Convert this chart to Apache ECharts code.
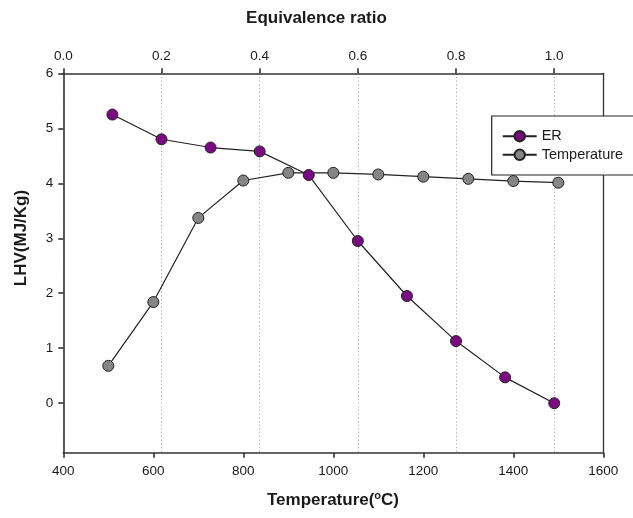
<!DOCTYPE html>
<html>
<head>
<meta charset="utf-8">
<script src="https://cdn.jsdelivr.net/npm/echarts@6/dist/echarts.min.js"></script>
<style>
html,body{margin:0;padding:0;background:#fff;}
#chart{width:633px;height:518px;}
</style>
</head>
<body>
<div id="chart"></div>
<script>
// ---- data ----
const tempX = [500, 600, 700, 800, 900, 1000, 1100, 1200, 1300, 1400, 1500];
const tempLHV = [0.68, 1.84, 3.37, 4.05, 4.19, 4.19, 4.16, 4.12, 4.08, 4.04, 4.01];
const erX = [0.1, 0.2, 0.3, 0.4, 0.5, 0.6, 0.7, 0.8, 0.9, 1.0];
const erLHV = [5.25, 4.80, 4.65, 4.58, 4.15, 2.95, 1.95, 1.13, 0.47, 0.0];
const yTicks = [0, 1, 2, 3, 4, 5, 6];
const erTicks = [0, 0.2, 0.4, 0.6, 0.8, 1.0];
const seriesNames = ['ER', 'Temperature'];
const xTitle = 'Temperature';
const x2Title = 'Equivalence ratio';
const yTitle = 'LHV(MJ/Kg)';

const FONT = '"Liberation Sans", Arial, sans-serif';
const axisColor = '#333';
const textColor = '#1a1a1a';

const chart = echarts.init(document.getElementById('chart'), null, {renderer: 'canvas'});

const axisLineStyle = {color: axisColor, width: 1.6};

const option = {
  backgroundColor: '#fff',
  animation: false,
  textStyle: {fontFamily: FONT},
  grid: {
    left: 63.3, right: 29.7, top: 73.3, bottom: 65.3,
    show: false
  },
  xAxis: [
    {
      type: 'value', position: 'bottom', min: 400, max: 1600, interval: 200,
      axisLine: {show: true, onZero: false, lineStyle: axisLineStyle},
      axisTick: {show: true, inside: false, length: 5, lineStyle: axisLineStyle},
      axisLabel: {color: textColor, fontSize: 13.5, margin: 12, fontFamily: FONT, formatter: v => String(v)},
      splitLine: {show: false}
    },
    {
      type: 'value', position: 'top', min: 0, max: 1.1, interval: 0.2,
      axisLine: {show: true, onZero: false, lineStyle: axisLineStyle},
      axisTick: {show: true, inside: false, length: 5, customValues: erTicks, lineStyle: axisLineStyle},
      axisLabel: {
        color: textColor, fontSize: 13.5, margin: 10, fontFamily: FONT,
        customValues: erTicks,
        formatter: v => v.toFixed(1)
      },
      splitLine: {show: true, lineStyle: {color: '#aaa', type: [1.2, 2.5], width: 1}}
    }
  ],
  yAxis: [
    {
      type: 'value', position: 'left', min: -0.9, max: 6,
      axisLine: {show: true, onZero: false, lineStyle: axisLineStyle},
      axisTick: {show: true, inside: false, length: 5, customValues: yTicks, lineStyle: axisLineStyle},
      axisLabel: {color: textColor, fontSize: 13.5, margin: 10, fontFamily: FONT, customValues: yTicks},
      splitLine: {show: false}
    },
    {
      type: 'value', position: 'right', min: -0.9, max: 6,
      axisLine: {show: true, onZero: false, lineStyle: {color: axisColor, width: 1.3}},
      axisTick: {show: false},
      axisLabel: {show: false},
      splitLine: {show: false}
    }
  ],
  legend: {
    orient: 'vertical',
    left: 491.7, top: 116,
    data: seriesNames,
    backgroundColor: '#fff',
    borderColor: '#222', borderWidth: 1.2, borderRadius: 0,
    padding: [12.7, 14, 12.7, 10],
    itemWidth: 34, itemHeight: 13, itemGap: 3.6,
    textStyle: {color: textColor, fontSize: 14.5, fontFamily: FONT, lineHeight: 14},
    z: 10
  },
  series: [
    {
      name: seriesNames[1], type: 'line', xAxisIndex: 0, yAxisIndex: 0,
      data: tempX.map((x, i) => [x, tempLHV[i]]),
      symbol: 'circle', symbolSize: 11,
      itemStyle: {color: '#858585', borderColor: '#222', borderWidth: 1},
      lineStyle: {color: '#222', width: 1.2},
      z: 2
    },
    {
      name: seriesNames[0], type: 'line', xAxisIndex: 1, yAxisIndex: 0,
      data: erX.map((x, i) => [x, erLHV[i]]),
      symbol: 'circle', symbolSize: 11,
      itemStyle: {color: '#7a0a7f', borderColor: '#222', borderWidth: 1},
      lineStyle: {color: '#222', width: 1.2},
      z: 3
    }
  ],
  graphic: [
    {
      type: 'text', left: 'center', top: 10,
      style: {text: x2Title, fontSize: 17, fontWeight: 'bold', fill: textColor, fontFamily: FONT}
    },
    {
      type: 'text', x: 333, y: 500,
      style: {
        text: xTitle + '({sup|o}C)',
        align: 'center', verticalAlign: 'middle',
        fontSize: 17, fontWeight: 'bold', fill: textColor, fontFamily: FONT,
        rich: {sup: {fontSize: 11, fontWeight: 'bold', verticalAlign: 'top', padding: [0, 0, 8, 0], fontFamily: FONT, fill: textColor}}
      }
    },
    {
      type: 'text', x: 21, y: 238, rotation: Math.PI / 2,
      style: {text: yTitle, align: 'center', verticalAlign: 'middle', fontSize: 17, fontWeight: 'bold', fill: textColor, fontFamily: FONT}
    }
  ]
};
chart.setOption(option);
</script>
</body>
</html>
